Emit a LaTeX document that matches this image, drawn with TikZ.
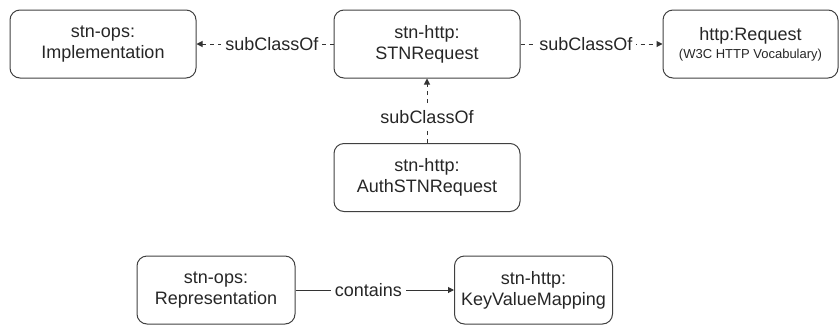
\documentclass[tikz,border=0pt]{standalone}
\usepackage{fontspec}
\setmainfont{Liberation Sans}
\usetikzlibrary{arrows.meta}

\begin{document}
\begin{tikzpicture}[
    x=1pt, y=-1pt,
    class/.style={rectangle, rounded corners=10pt, draw=black!75, line width=1pt,
        minimum width=186pt, minimum height=68pt, align=center,
        font=\fontsize{18}{21}\selectfont, text=black!85},
    link/.style={line width=1pt, draw=black!80,
        -{Triangle[length=6pt, width=6pt]}},
    sublink/.style={link, dash pattern=on 4pt off 4pt},
    lbl/.style={fill=white, inner sep=4pt, font=\fontsize{18}{21}\selectfont, text=black!85}
]
    \useasboundingbox (0,0) rectangle (839,325);
    \node[class] (impl) at (103,44) {stn-ops:\\Implementation};
    \node[class] (stnreq) at (427,44) {stn-http:\\STNRequest};
    \node[class, minimum width=175pt] (httpreq) at (750.5,44)
        {http:Request\\[-3pt]{\fontsize{13}{15}\selectfont (W3C HTTP Vocabulary)}};
    \node[class] (auth) at (427,177.5) {stn-http:\\AuthSTNRequest};
    \node[class, minimum width=158pt] (repr) at (216,290) {stn-ops:\\Representation};
    \node[class, minimum width=158pt] (kvm) at (533.5,290) {stn-http:\\KeyValueMapping};
    \draw[sublink] (stnreq) -- node[lbl, pos=0.45] {subClassOf} (impl);
    \draw[sublink] (stnreq) -- node[lbl, pos=0.46] {subClassOf} (httpreq);
    \draw[sublink] (auth) -- node[lbl, pos=0.4] {subClassOf} (stnreq);
    \draw[link] (repr) -- node[lbl, pos=0.46] {contains} (kvm);
\end{tikzpicture}
\end{document}
